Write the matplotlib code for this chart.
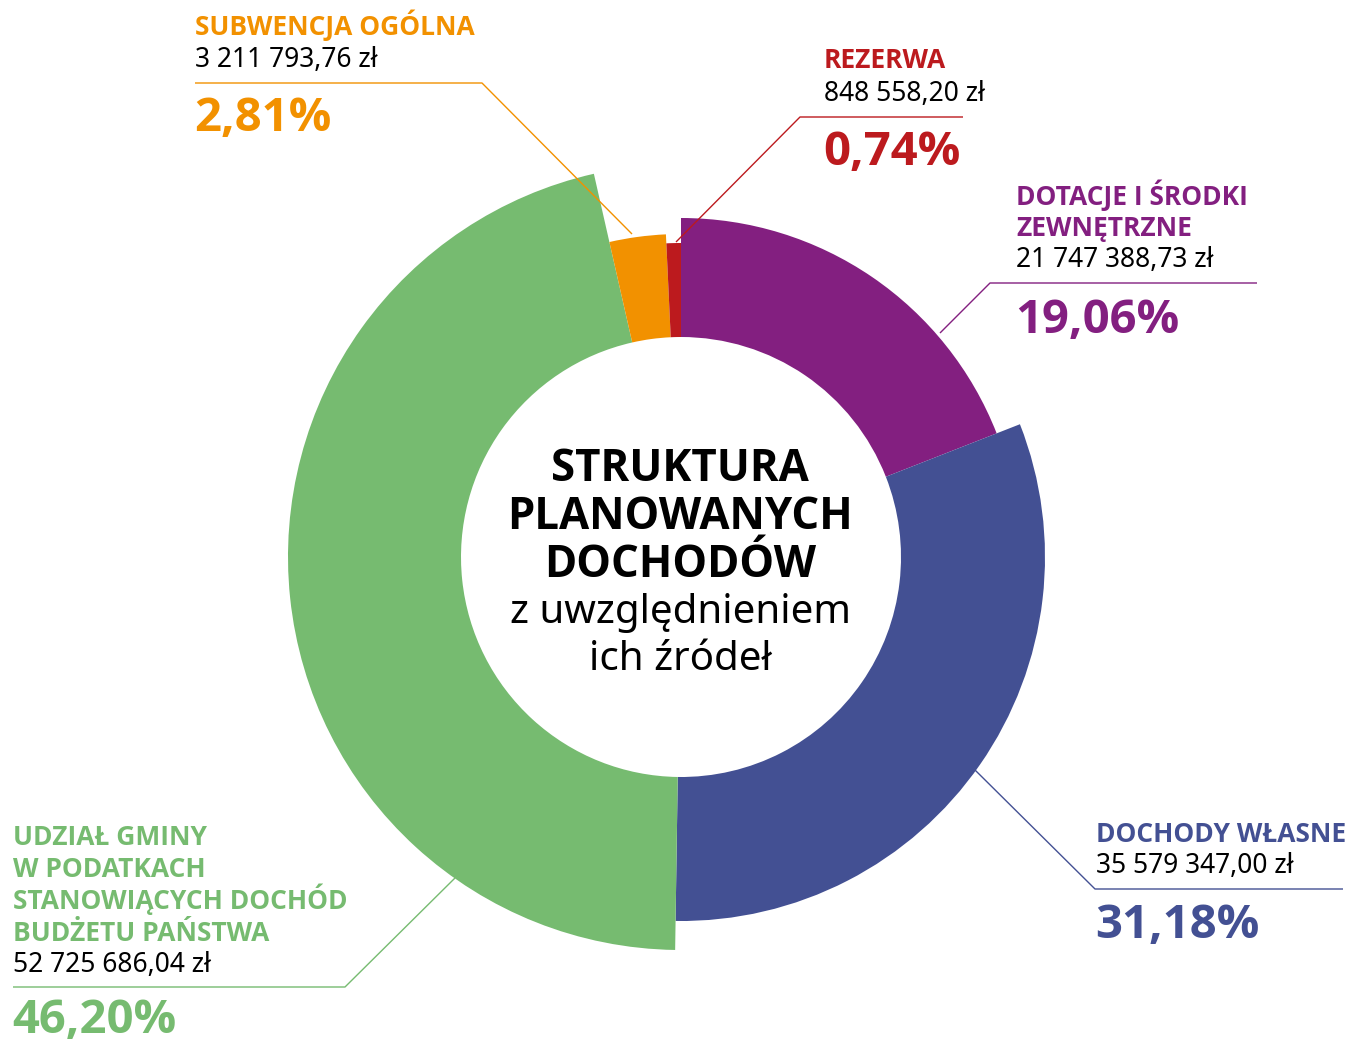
import matplotlib.pyplot as plt
from matplotlib import font_manager as fm
from matplotlib.patches import Wedge

# find a bold sans face, the default lookup picked the regular one
bold_path = None
for name in ['Noto Sans', 'Open Sans', 'Lato', 'Roboto', 'Liberation Sans']:
    for f in fm.fontManager.ttflist:
        if f.name == name and f.style == 'normal' and f.weight in (700, 'bold'):
            bold_path = f.fname
            break
    if bold_path:
        break
plt.rcParams['font.family'] = ['Noto Sans', 'DejaVu Sans']

def bold(size):
    if bold_path:
        return fm.FontProperties(fname=bold_path, size=size)
    return fm.FontProperties(family='DejaVu Sans', weight='bold', size=size)

# data (clockwise from 12 o'clock)
categories = ["DOTACJE I ŚRODKI\nZEWNĘTRZNE", "DOCHODY WŁASNE",
              "UDZIAŁ GMINY\nW PODATKACH\nSTANOWIĄCYCH DOCHÓD\nBUDŻETU PAŃSTWA",
              "SUBWENCJA OGÓLNA", "REZERWA"]
amounts = [21747388.73, 35579347.00, 52725686.04, 3211793.76, 848558.20]
amount_labels = ["21 747 388,73 zł", "35 579 347,00 zł", "52 725 686,04 zł",
                 "3 211 793,76 zł", "848 558,20 zł"]
percent_labels = ["19,06%", "31,18%", "46,20%", "2,81%", "0,74%"]
colors = ["#831F80", "#435093", "#76BB70", "#F29100", "#BC1A1E"]
outer_r = [339, 364, 393, 323, 314]

W, H = 1354, 1041
cx, cy = 681, 557
inner_r = 220

fig = plt.figure(figsize=(W / 100, H / 100), dpi=100)
ax = fig.add_axes([0, 0, 1, 1])
ax.set_xlim(0, W)
ax.set_ylim(H, 0)   # y pointing down, so wedge angles run clockwise
ax.set_aspect('equal')
ax.axis('off')

total = sum(amounts)
start = -90.0
for val, r, c in zip(amounts, outer_r, colors):
    span = val / total * 360
    ax.add_patch(Wedge((cx, cy), r, start, start + span, width=r - inner_r,
                       facecolor=c, edgecolor='none'))
    start += span

# labels: (text x, title baseline, line spacing, value baseline, pct baseline,
#          underline y, underline x0, x1, leader end point)
label_layout = [
    (1016, 205, 31, 267, 333, 283, 990, 1257, (940, 333)),
    (1096, 842, 32, 873, 938, 889, 1095, 1343, (975, 770)),
    (13, 845, 32, 972, 1033, 987, 13, 345, (455, 878)),
    (195, 35, 32, 67, 131, 83, 195, 482, (632, 234)),
    (824, 68, 32, 101, 165, 117, 800, 963, (676, 242)),
]

for cat, amt, pct, c, lay in zip(categories, amount_labels, percent_labels,
                                 colors, label_layout):
    x, ty, dy, vy, py, uy, ux0, ux1, end = lay
    for i, line in enumerate(cat.split("\n")):
        ax.text(x, ty + i * dy, line, color=c, fontproperties=bold(19),
                va='baseline', ha='left')
    ax.text(x, vy, amt, color='black', fontsize=19, va='baseline', ha='left')
    ax.text(x - 1, py, pct, color=c, fontproperties=bold(34),
            va='baseline', ha='left')
    # leader line: underline then diagonal to the ring
    if end[0] > ux1:
        xs, ys = [ux0, ux1, end[0]], [uy, uy, end[1]]
    else:
        xs, ys = [ux1, ux0, end[0]], [uy, uy, end[1]]
    ax.plot(xs, ys, color=c, lw=1.0, solid_capstyle='butt')

center_bold = ["STRUKTURA", "PLANOWANYCH", "DOCHODÓW"]
center_reg = ["z uwzględnieniem", "ich źródeł"]
for i, line in enumerate(center_bold):
    ax.text(cx - 1, 481 + i * 48, line, fontproperties=bold(31.5),
            ha='center', va='baseline', color='black')
for i, line in enumerate(center_reg):
    ax.text(cx - 1, 623 + i * 47, line, fontsize=29,
            ha='center', va='baseline', color='black')

fig.savefig("out.png", dpi=100)
